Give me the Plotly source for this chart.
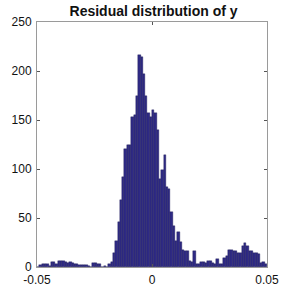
import numpy as np
import plotly.graph_objects as go

# Histogram: 100 bins of width 0.001 from -0.05 to 0.05
bin_start = -0.05
bin_width = 0.001
counts = [
    0, 2, 3, 3, 3, 1, 5, 5, 3, 6,
    6, 6, 5, 4, 5, 4, 3, 3, 2, 2,
    2, 2, 1, 0, 4, 4, 3, 3, 0, 1,
    0, 3, 5, 14, 27, 46, 68, 92, 120, 124,
    124, 153, 155, 174, 216, 214, 197, 175, 157, 153,
    160, 157, 140, 90, 99, 114, 82, 80, 56, 42,
    27, 36, 26, 17, 16, 16, 6, 5, 16, 3,
    3, 5, 5, 4, 6, 6, 4, 3, 8, 3,
    3, 9, 11, 17, 17, 16, 16, 14, 14, 21,
    24, 21, 16, 16, 14, 14, 13, 4, 5, 3,
]
x_ticks = [-0.05, 0, 0.05]
x_tick_labels = ["-0.05", "0", "0.05"]
y_ticks = [0, 50, 100, 150, 200, 250]
title = "Residual distribution of y"

centers = bin_start + bin_width * (np.arange(len(counts)) + 0.5)

fig = go.Figure(
    go.Bar(
        x=centers,
        y=counts,
        width=bin_width,
        marker=dict(color="#2f2a85", line=dict(color="#1e1b55", width=0.4)),
    )
)

font_family = "Liberation Sans, Arial, sans-serif"
axis_common = dict(
    showline=True,
    mirror="ticks",
    linecolor="#9a9a9a",
    linewidth=1,
    ticks="inside",
    ticklen=3,
    tickcolor="#555555",
    showgrid=False,
    zeroline=False,
    automargin=False,
    ticklabeloverflow="allow",
    tickfont=dict(family=font_family, size=12, color="#111111"),
)

fig.update_layout(
    width=287,
    height=286,
    margin=dict(l=37, r=20, t=22, b=19),
    paper_bgcolor="white",
    plot_bgcolor="white",
    showlegend=False,
    bargap=0,
    title=dict(
        text="<b>" + title + "</b>",
        x=0.535,
        xanchor="center",
        y=0.962,
        yanchor="middle",
        automargin=False,
        font=dict(family=font_family, size=14, color="#111111"),
    ),
    xaxis=dict(
        range=[-0.05, 0.05],
        tickvals=x_ticks,
        ticktext=x_tick_labels,
        ticklabelstandoff=2,
        **axis_common,
    ),
    yaxis=dict(
        range=[0, 250],
        tickvals=y_ticks,
        ticklabelstandoff=2,
        **axis_common,
    ),
)

fig.write_html(
    "out.html",
    config={"displayModeBar": False},
    post_script="document.body.style.margin='0';document.body.style.overflow='hidden';",
)
